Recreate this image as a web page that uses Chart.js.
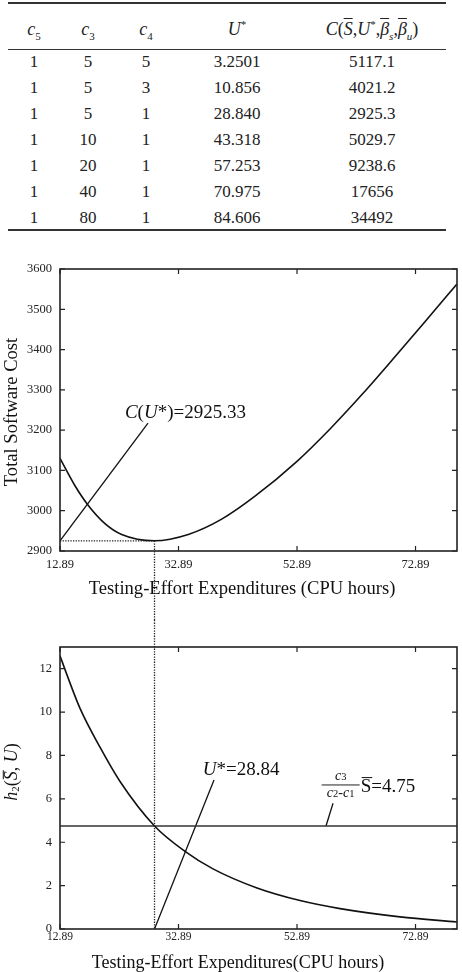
<!DOCTYPE html>
<html><head><meta charset="utf-8">
<script src="https://cdn.jsdelivr.net/npm/chart.js@4.4.1/dist/chart.umd.min.js"></script>
<style>
html,body{margin:0;padding:0;background:#fff;width:462px;height:972px;overflow:hidden;}
#tbl{position:absolute;left:0;top:0;width:462px;height:240px;font-family:'Liberation Serif','Times New Roman',serif;color:#222;}
.rule{position:absolute;left:8px;width:438px;background:#333;}
.cell{position:absolute;transform:translateX(-50%);white-space:nowrap;font-size:17px;line-height:20px;}
.hd{font-size:18px;}
.ov{text-decoration:overline;}
sub,sup{font-size:11px;line-height:0;}
canvas{position:absolute;left:0;}
</style></head><body>
<div id="tbl">
 <div class="rule" style="top:2px;height:1.5px"></div>
 <div class="rule" style="top:48.5px;height:1px"></div>
 <div class="rule" style="top:229px;height:1.5px"></div>
</div>
<canvas id="c1" width="462" height="380" style="top:240px"></canvas>
<canvas id="c2" width="462" height="352" style="top:620px"></canvas>
<script>
// ---------------- data ----------------
const colC5 = [1, 1, 1, 1, 1, 1, 1];
const colC3 = [5, 5, 5, 10, 20, 40, 80];
const colC4 = [5, 3, 1, 1, 1, 1, 1];
const colUStar = ['3.2501', '10.856', '28.840', '43.318', '57.253', '70.975', '84.606'];
const colCost = ['5117.1', '4021.2', '2925.3', '5029.7', '9238.6', '17656', '34492'];

const effortTicks = [12.89, 32.89, 52.89, 72.89];
const costTicks = [2900, 3000, 3100, 3200, 3300, 3400, 3500, 3600];
const h2Ticks = [0, 2, 4, 6, 8, 10, 12];

const costEffort = [12.89, 15.42, 17.67, 20.48, 23.30, 28.84, 34.54, 40.18, 45.80, 52.84, 58.46, 64.08, 69.71, 75.34, 79.89];
const costValues = [3130, 3062, 3013, 2968, 2941, 2925.33, 2941, 2979, 3036, 3122, 3203, 3292, 3387, 3484, 3563];

const h2Effort = [12.89, 14.02, 16.27, 19.64, 23.02, 28.84, 33.99, 38.71, 46.14, 53.40, 60.15, 70.27, 79.89];
const h2Values = [12.6, 11.75, 10.17, 8.38, 6.8, 4.75, 3.58, 2.77, 1.89, 1.31, 0.94, 0.56, 0.32];

const uStar = 28.84;
const minCost = 2925.33;
const h2Level = 4.75;

// annotation pointer lines
const costPointerX = [12.89, 27.74];
const costPointerY = [2925.33, 3217.6];
const uPointerX = [28.84, 38.88];
const uPointerY = [0, 6.87];
const levelPointerX = [57.78, 58.97];
const levelPointerY = [4.75, 5.8];
const levelLineX = [12.89, 79.89];

// ---------------- table ----------------
const FAM = "'Liberation Serif','Times New Roman',serif";
const tbl = document.getElementById('tbl');
const colX = [34, 88, 146, 237, 372];
const headers = [
  '<i>c</i><sub>5</sub>',
  '<i>c</i><sub>3</sub>',
  '<i>c</i><sub>4</sub>',
  '<i>U</i><sup>*</sup>',
  '<i>C</i>(<span class="ov"><i>S</i></span>,<i>U</i><sup>*</sup>,<span class="ov"><i>&beta;</i></span><sub><i>s</i></sub>,<span class="ov"><i>&beta;</i></span><sub><i>u</i></sub>)'
];
function addCell(html, x, cy, cls) {
  const d = document.createElement('div');
  d.className = 'cell ' + (cls || '');
  d.style.left = x + 'px';
  d.style.top = (cy - 10) + 'px';
  d.innerHTML = html;
  tbl.appendChild(d);
}
headers.forEach((h, j) => addCell(h, colX[j], 29, 'hd'));
const cols = [colC5, colC3, colC4, colUStar, colCost];
for (let i = 0; i < colC5.length; i++) {
  cols.forEach((c, j) => addCell(String(c[i]), colX[j], 62 + 26 * i));
}

// ---------------- helpers ----------------
function rich(ctx, parts, x, y, size, align) {
  const fontFor = p => `${p.i ? 'italic ' : ''}${(p.s || 1) * size}px ${FAM}`;
  let w = 0;
  parts.forEach(p => { ctx.font = fontFor(p); p.w = ctx.measureText(p.t).width; w += p.w; });
  let cx = align === 'center' ? x - w / 2 : x;
  ctx.textAlign = 'left';
  ctx.textBaseline = 'alphabetic';
  parts.forEach(p => {
    ctx.font = fontFor(p);
    ctx.fillText(p.t, cx, y + (p.dy || 0) * size);
    if (p.ov) {
      ctx.save(); ctx.lineWidth = 1.1; ctx.beginPath();
      ctx.moveTo(cx + 1, y - 0.76 * size); ctx.lineTo(cx + p.w + 1, y - 0.76 * size); ctx.stroke(); ctx.restore();
    }
    cx += p.w;
  });
  return w;
}
function frameAndTicks(chart, xt, yt) {
  const {ctx, chartArea: a, scales: {x, y}} = chart;
  ctx.save();
  ctx.strokeStyle = '#222';
  ctx.lineWidth = 1.6;
  ctx.strokeRect(a.left, a.top, a.right - a.left, a.bottom - a.top);
  ctx.lineWidth = 1.2;
  ctx.beginPath();
  xt.forEach(v => {
    const px = x.getPixelForValue(v);
    ctx.moveTo(px, a.bottom); ctx.lineTo(px, a.bottom - 5);
    ctx.moveTo(px, a.top); ctx.lineTo(px, a.top + 5);
  });
  yt.forEach(v => {
    const py = y.getPixelForValue(v);
    ctx.moveTo(a.left, py); ctx.lineTo(a.left + 5, py);
    ctx.moveTo(a.right, py); ctx.lineTo(a.right - 5, py);
  });
  ctx.stroke();
  ctx.restore();
}
const pts = (xs, ys) => xs.map((v, i) => ({x: v, y: ys[i]}));
const lineDs = (data, extra) => Object.assign({
  data, borderColor: '#111', borderWidth: 1.4, pointRadius: 0, fill: false, tension: 0
}, extra || {});

Chart.defaults.font.family = FAM;
Chart.defaults.color = '#222';

// ---------------- chart 1 ----------------
const plugin1 = {
  id: 'p1',
  afterDraw(chart) {
    const {ctx, scales: {x, y}} = chart;
    frameAndTicks(chart, effortTicks, costTicks);
    ctx.save();
    ctx.fillStyle = '#111'; ctx.strokeStyle = '#222';
    ctx.setLineDash([1.3, 1.3]); ctx.lineWidth = 1.3;
    ctx.beginPath();
    ctx.moveTo(x.getPixelForValue(uStar), y.getPixelForValue(minCost));
    ctx.lineTo(x.getPixelForValue(uStar), chart.height);
    ctx.stroke();
    ctx.setLineDash([]);
    rich(ctx, [{t: 'C', i: 1}, {t: '('}, {t: 'U', i: 1}, {t: '*)=2925.33'}],
      x.getPixelForValue(23.85), y.getPixelForValue(3230), 19);
    ctx.font = `18.6px ${FAM}`; ctx.textAlign = 'center'; ctx.textBaseline = 'middle';
    ctx.fillText('Testing-Effort Expenditures (CPU hours)', 242, 349);
    ctx.translate(12, 172); ctx.rotate(-Math.PI / 2);
    ctx.fillText('Total Software Cost', 0, 0);
    ctx.restore();
  }
};
new Chart(document.getElementById('c1'), {
  type: 'line',
  data: {datasets: [
    lineDs(pts(costEffort, costValues), {cubicInterpolationMode: 'monotone', borderWidth: 1.6}),
    lineDs(pts(costPointerX, costPointerY), {borderWidth: 1.3}),
    lineDs(pts([costEffort[0], uStar], [minCost, minCost]), {borderDash: [1.3, 1.3], borderWidth: 1.3, borderColor: '#222'})
  ]},
  options: {
    responsive: false, animation: false, devicePixelRatio: 1,
    layout: {padding: {top: 29, right: 5, left: 0, bottom: 0}},
    plugins: {legend: {display: false}, tooltip: {enabled: false}},
    scales: {
      x: {type: 'linear', min: 12.89, max: 79.89,
        grid: {display: false, drawTicks: false}, border: {display: false},
        ticks: {font: {size: 12.5}, padding: 6, maxRotation: 0, autoSkip: false, callback: v => v.toFixed(2)},
        afterBuildTicks: s => { s.ticks = effortTicks.map(v => ({value: v})); },
        afterFit: s => { s.height = 69; }},
      y: {min: 2900, max: 3600,
        grid: {display: false, drawTicks: false}, border: {display: false},
        ticks: {font: {size: 12.5}, padding: 8, callback: v => String(v)},
        afterBuildTicks: s => { s.ticks = costTicks.map(v => ({value: v})); },
        afterFit: s => { s.width = 60; }}
    }
  },
  plugins: [plugin1]
});

// ---------------- chart 2 ----------------
const plugin2 = {
  id: 'p2',
  afterDraw(chart) {
    const {ctx, scales: {x, y}} = chart;
    frameAndTicks(chart, effortTicks, h2Ticks);
    ctx.save();
    ctx.fillStyle = '#111'; ctx.strokeStyle = '#222';
    ctx.setLineDash([1.3, 1.3]); ctx.lineWidth = 1.3;
    ctx.beginPath();
    ctx.moveTo(x.getPixelForValue(uStar), 0);
    ctx.lineTo(x.getPixelForValue(uStar), y.getPixelForValue(0));
    ctx.stroke();
    ctx.setLineDash([]);
    rich(ctx, [{t: 'U', i: 1}, {t: '*=28.84'}], x.getPixelForValue(37.0), y.getPixelForValue(7.10), 19);
    const fx = x.getPixelForValue(57.05), fy = y.getPixelForValue(6.64);
    ctx.lineWidth = 1;
    ctx.beginPath(); ctx.moveTo(fx, fy); ctx.lineTo(fx + 38, fy); ctx.stroke();
    rich(ctx, [{t: 'c', i: 1}, {t: '3', s: 0.75}], fx + 19, fy - 5, 14, 'center');
    rich(ctx, [{t: 'c', i: 1}, {t: '2', s: 0.75}, {t: '-'}, {t: 'c', i: 1}, {t: '1', s: 0.75}], fx + 19, fy + 12, 14, 'center');
    rich(ctx, [{t: 'S', ov: 1}, {t: '=4.75'}], fx + 39, fy + 7, 19);
    ctx.font = `18px ${FAM}`; ctx.textAlign = 'center'; ctx.textBaseline = 'middle';
    ctx.fillText('Testing-Effort Expenditures(CPU hours)', 238, 343);
    ctx.translate(11, 152); ctx.rotate(-Math.PI / 2);
    rich(ctx, [{t: 'h', i: 1}, {t: '2', s: 0.6, dy: 0.12}, {t: '('}, {t: 'S', i: 1, ov: 1}, {t: ', '}, {t: 'U', i: 1}, {t: ')'}], 0, 6, 18, 'center');
    ctx.restore();
  }
};
new Chart(document.getElementById('c2'), {
  type: 'line',
  data: {datasets: [
    lineDs(pts(h2Effort, h2Values), {cubicInterpolationMode: 'monotone', borderWidth: 1.6}),
    lineDs(pts(levelLineX, [h2Level, h2Level]), {borderWidth: 1.6, borderColor: '#333'}),
    lineDs(pts(uPointerX, uPointerY), {borderWidth: 1.3}),
    lineDs(pts(levelPointerX, levelPointerY), {borderWidth: 1.3})
  ]},
  options: {
    responsive: false, animation: false, devicePixelRatio: 1,
    layout: {padding: {top: 27, right: 5, left: 0, bottom: 0}},
    plugins: {legend: {display: false}, tooltip: {enabled: false}},
    scales: {
      x: {type: 'linear', min: 12.89, max: 79.89,
        grid: {display: false, drawTicks: false}, border: {display: false},
        ticks: {font: {size: 11.5}, padding: 1, maxRotation: 0, autoSkip: false, callback: v => v.toFixed(2)},
        afterBuildTicks: s => { s.ticks = effortTicks.map(v => ({value: v})); },
        afterFit: s => { s.height = 43; }},
      y: {min: 0, max: 13,
        grid: {display: false, drawTicks: false}, border: {display: false},
        ticks: {font: {size: 12.5}, padding: 8, callback: v => String(v)},
        afterBuildTicks: s => { s.ticks = h2Ticks.map(v => ({value: v})); },
        afterFit: s => { s.width = 60; }}
    }
  },
  plugins: [plugin2]
});
</script>
</body></html>
